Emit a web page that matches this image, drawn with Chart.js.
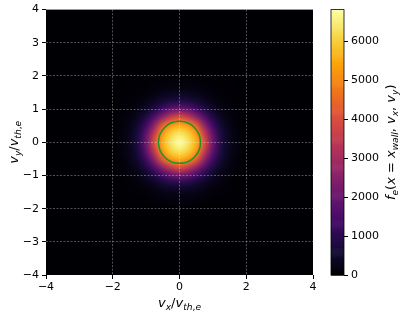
<!DOCTYPE html>
<html>
<head>
<meta charset="utf-8">
<script src="https://cdn.jsdelivr.net/npm/chart.js@4"></script>
<style>
  body { margin: 0; background: #fff; }
  #main { position: absolute; left: 0; top: 0; }
  #cbar { position: absolute; left: 320px; top: 0; }
</style>
</head>
<body>
<canvas id="main" width="407" height="315"></canvas>
<canvas id="cbar" width="87" height="315"></canvas>
<script>
// cell centres of the distribution grid (v / v_th,e)
const vxCenters = [-1.75, -1.5, -1.25, -1, -0.75, -0.5, -0.25, 0, 0.25, 0.5, 0.75, 1, 1.25, 1.5, 1.75];
const vyCenters = [-1.75, -1.5, -1.25, -1, -0.75, -0.5, -0.25, 0, 0.25, 0.5, 0.75, 1, 1.25, 1.5, 1.75];
// f_e values, one row per vy (bottom row first); everything outside is ~0
const fValues = [
  [5, 10, 18, 30, 50, 75, 95, 100, 95, 75, 50, 30, 18, 10, 5],
  [10, 20, 40, 80, 150, 230, 290, 310, 290, 230, 150, 80, 40, 20, 10],
  [18, 40, 95, 210, 370, 590, 760, 820, 760, 590, 370, 210, 95, 40, 18],
  [30, 80, 210, 460, 820, 1350, 1850, 2050, 1850, 1350, 820, 460, 210, 80, 30],
  [50, 150, 370, 820, 1650, 2700, 3600, 4100, 3600, 2700, 1650, 820, 370, 150, 50],
  [75, 230, 590, 1350, 2700, 4450, 5300, 5600, 5300, 4450, 2700, 1350, 590, 230, 75],
  [95, 290, 760, 1850, 3600, 5300, 6100, 6400, 6100, 5300, 3600, 1850, 760, 290, 95],
  [100, 310, 820, 2050, 4100, 5600, 6400, 6820, 6400, 5600, 4100, 2050, 820, 310, 100],
  [95, 290, 760, 1850, 3600, 5300, 6100, 6400, 6100, 5300, 3600, 1850, 760, 290, 95],
  [75, 230, 590, 1350, 2700, 4450, 5300, 5600, 5300, 4450, 2700, 1350, 590, 230, 75],
  [50, 150, 370, 820, 1650, 2700, 3600, 4100, 3600, 2700, 1650, 820, 370, 150, 50],
  [30, 80, 210, 460, 820, 1350, 1850, 2050, 1850, 1350, 820, 460, 210, 80, 30],
  [18, 40, 95, 210, 370, 590, 760, 820, 760, 590, 370, 210, 95, 40, 18],
  [10, 20, 40, 80, 150, 230, 290, 310, 290, 230, 150, 80, 40, 20, 10],
  [5, 10, 18, 30, 50, 75, 95, 100, 95, 75, 50, 30, 18, 10, 5]
];
const xTicks = [-4, -2, 0, 2, 4];
const yTicks = [-4, -3, -2, -1, 0, 1, 2, 3, 4];
const cbTicks = [0, 1000, 2000, 3000, 4000, 5000, 6000];
const circleCenter = [0, 0];
const circleRadius = [0.63];

const vMin = 0;
const vMax = Math.max(...fValues.flat());

const inferno = ['#000004', '#160b39', '#420a68', '#6a176e', '#932667', '#bc3754',
                 '#dd513a', '#f37819', '#fca50a', '#f6d746', '#fcffa4'];
const infRgb = inferno.map(h => [1, 3, 5].map(i => parseInt(h.substr(i, 2), 16)));

function cmap(v) {
  let t = (v - vMin) / (vMax - vMin);
  t = Math.min(1, Math.max(0, t)) * (infRgb.length - 1);
  const i = Math.min(infRgb.length - 2, Math.floor(t));
  const f = t - i;
  const a = infRgb[i], b = infRgb[i + 1];
  return a.map((c, k) => Math.round(c + (b[k] - c) * f));
}
function rgb(c) { return 'rgb(' + c.join(',') + ')'; }

const FONT = "'DejaVu Sans', sans-serif";
Chart.defaults.font.family = FONT;
Chart.defaults.font.size = 11;
Chart.defaults.color = '#000';

const minus = v => v < 0 ? '\u2212' + Math.abs(v) : String(v);

// mathtext-like label: [text, italic, subscript]
function drawMath(ctx, parts, x, y, size, rotate) {
  const fontOf = p => (p[1] ? 'italic ' : '') + (p[2] ? size * 0.7 : size) + 'px ' + FONT;
  let total = 0;
  const widths = parts.map(p => { ctx.font = fontOf(p); const w = ctx.measureText(p[0]).width; total += w; return w; });
  ctx.save();
  ctx.translate(x, y);
  if (rotate) ctx.rotate(-Math.PI / 2);
  ctx.fillStyle = '#000';
  ctx.textBaseline = 'alphabetic';
  ctx.textAlign = 'left';
  let cx = -total / 2;
  parts.forEach((p, i) => {
    ctx.font = fontOf(p);
    ctx.fillText(p[0], cx, p[2] ? size * 0.22 : 0);
    cx += widths[i];
  });
  ctx.restore();
}

const heatmap = {
  id: 'heatmap',
  beforeDraw(chart) {
    const { ctx, chartArea: a, scales: { x, y } } = chart;
    ctx.save();
    ctx.fillStyle = rgb(cmap(0));
    ctx.fillRect(a.left, a.top, a.right - a.left, a.bottom - a.top);
    const nx = vxCenters.length, ny = vyCenters.length;
    const off = document.createElement('canvas');
    off.width = nx; off.height = ny;
    const octx = off.getContext('2d');
    const img = octx.createImageData(nx, ny);
    for (let j = 0; j < ny; j++) {
      for (let i = 0; i < nx; i++) {
        const c = cmap(fValues[j][i]);
        const k = ((ny - 1 - j) * nx + i) * 4;
        img.data[k] = c[0]; img.data[k + 1] = c[1]; img.data[k + 2] = c[2]; img.data[k + 3] = 255;
      }
    }
    octx.putImageData(img, 0, 0);
    const dx = (vxCenters[1] - vxCenters[0]) / 2, dy = (vyCenters[1] - vyCenters[0]) / 2;
    const x0 = x.getPixelForValue(vxCenters[0] - dx), x1 = x.getPixelForValue(vxCenters[nx - 1] + dx);
    const y0 = y.getPixelForValue(vyCenters[ny - 1] + dy), y1 = y.getPixelForValue(vyCenters[0] - dy);
    ctx.imageSmoothingEnabled = true;
    ctx.imageSmoothingQuality = 'high';
    ctx.drawImage(off, x0, y0, x1 - x0, y1 - y0);
    ctx.restore();
  },
  afterDraw(chart) {
    const { ctx, scales: { x, y } } = chart;
    const cx = x.getPixelForValue(circleCenter[0]), cy = y.getPixelForValue(circleCenter[1]);
    const r = x.getPixelForValue(circleCenter[0] + circleRadius[0]) - cx;
    ctx.save();
    ctx.strokeStyle = '#21922d';
    ctx.lineWidth = 1.5;
    ctx.beginPath();
    ctx.arc(cx, cy, r, 0, Math.PI * 2);
    ctx.stroke();
    ctx.restore();
    drawMath(ctx, [['v', 1, 0], ['x', 1, 1], ['/', 0, 0], ['v', 1, 0], ['th', 1, 1], [',', 0, 1], ['e', 1, 1]],
             (chart.chartArea.left + chart.chartArea.right) / 2, 307, 13, false);
    drawMath(ctx, [['v', 1, 0], ['y', 1, 1], ['/', 0, 0], ['v', 1, 0], ['th', 1, 1], [',', 0, 1], ['e', 1, 1]],
             18, (chart.chartArea.top + chart.chartArea.bottom) / 2, 13, true);
  }
};

const gridColor = ctx => (ctx.tick && Math.abs(ctx.tick.value) === 4) ? 'rgba(0,0,0,0)' : 'rgba(255,255,255,0.32)';

new Chart(document.getElementById('main'), {
  type: 'scatter',
  data: { datasets: [] },
  options: {
    responsive: false,
    animation: false,
    devicePixelRatio: 1,
    layout: { padding: { top: 9, right: 94, left: 0, bottom: 0 } },
    plugins: { legend: { display: false }, tooltip: { enabled: false } },
    scales: {
      x: {
        type: 'linear', min: -4, max: 4,
        afterBuildTicks: s => { s.ticks = xTicks.map(v => ({ value: v })); },
        ticks: { callback: minus, padding: 2, maxRotation: 0 },
        grid: { color: gridColor, lineWidth: 1, tickColor: '#000', tickLength: 4 },
        border: { display: false, dash: [2, 1.5] },
        afterFit: s => { s.height = 40; }
      },
      y: {
        type: 'linear', min: -4, max: 4,
        afterBuildTicks: s => { s.ticks = yTicks.map(v => ({ value: v })); },
        ticks: { callback: minus, padding: 3 },
        grid: { color: gridColor, lineWidth: 1, tickColor: '#000', tickLength: 4 },
        border: { display: false, dash: [2, 1.5] },
        afterFit: s => { s.width = 46; }
      }
    }
  },
  plugins: [heatmap]
});

const colorbar = {
  id: 'colorbar',
  beforeDraw(chart) {
    const { ctx, chartArea: a, scales: { y } } = chart;
    const n = 256;
    ctx.save();
    for (let i = 0; i < n; i++) {
      const v0 = vMin + (vMax - vMin) * i / n, v1 = vMin + (vMax - vMin) * (i + 1) / n;
      const p0 = y.getPixelForValue(v0), p1 = y.getPixelForValue(v1);
      ctx.fillStyle = rgb(cmap((v0 + v1) / 2));
      ctx.fillRect(a.left, p1, a.right - a.left, p0 - p1 + 0.6);
    }
    ctx.strokeStyle = '#000';
    ctx.lineWidth = 0.8;
    ctx.strokeRect(a.left, a.top, a.right - a.left, a.bottom - a.top);
    ctx.restore();
  },
  afterDraw(chart) {
    const a = chart.chartArea;
    drawMath(chart.ctx, [['f', 1, 0], ['e', 1, 1], ['(', 0, 0], ['x', 1, 0], [' = ', 0, 0], ['x', 1, 0], ['wall', 1, 1],
                         [', ', 0, 0], ['v', 1, 0], ['x', 1, 1], [', ', 0, 0], ['v', 1, 0], ['y', 1, 1], [')', 0, 0]],
             75, (a.top + a.bottom) / 2, 13, true);
  }
};

new Chart(document.getElementById('cbar'), {
  type: 'scatter',
  data: { datasets: [] },
  options: {
    responsive: false,
    animation: false,
    devicePixelRatio: 1,
    layout: { padding: { top: 9, left: 11, bottom: 40, right: 0 } },
    plugins: { legend: { display: false }, tooltip: { enabled: false } },
    scales: {
      x: { type: 'linear', display: false, min: 0, max: 1 },
      y: {
        type: 'linear', position: 'right', min: vMin, max: vMax,
        afterBuildTicks: s => { s.ticks = cbTicks.map(v => ({ value: v })); },
        ticks: { callback: v => String(v), padding: 3 },
        grid: { drawOnChartArea: false, tickColor: '#000', tickLength: 4 },
        border: { display: false },
        afterFit: s => { s.width = 63; }
      }
    }
  },
  plugins: [colorbar]
});
</script>
</body>
</html>
